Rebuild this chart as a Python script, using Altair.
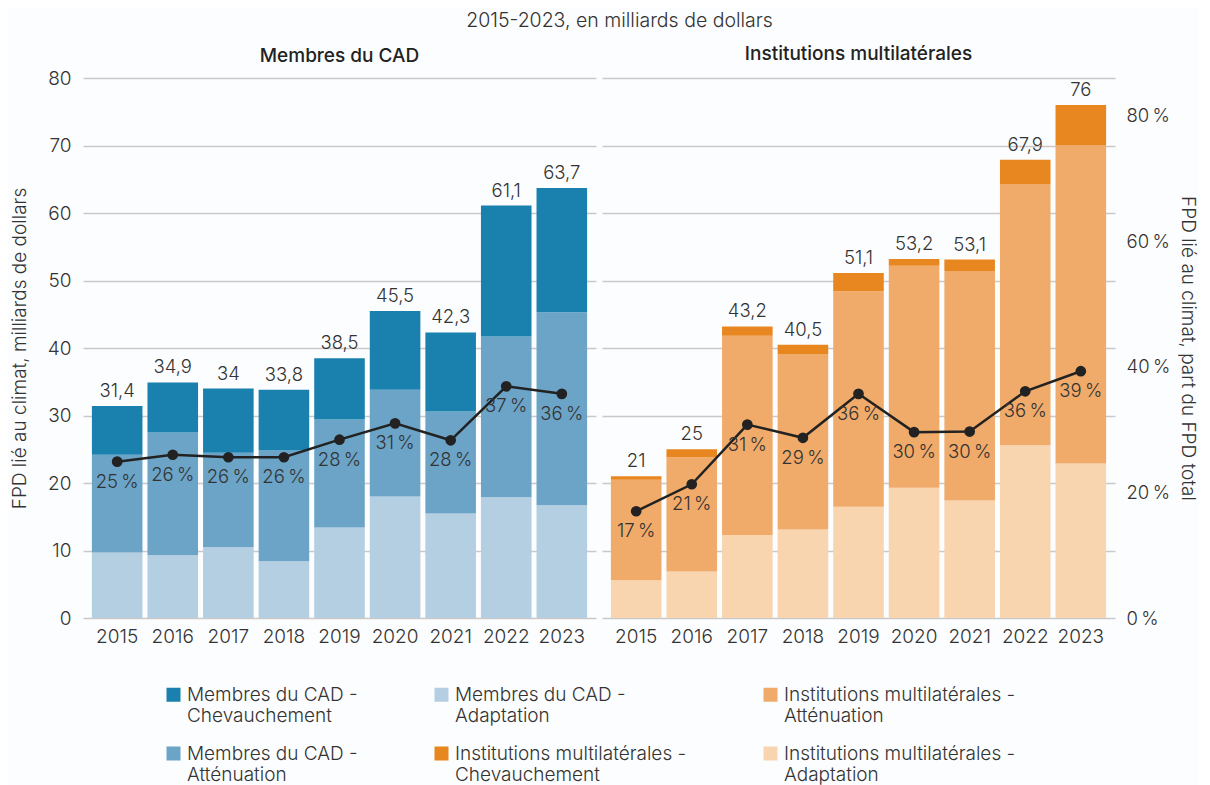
import altair as alt
import pandas as pd

years = ["2015", "2016", "2017", "2018", "2019", "2020", "2021", "2022", "2023"]

cad_adaptation = [9.7, 9.3, 10.5, 8.4, 13.4, 18.0, 15.5, 17.9, 16.7]
cad_attenuation = [14.5, 18.2, 14.0, 16.4, 16.0, 15.8, 15.1, 23.8, 28.6]
cad_chevauchement = [7.2, 7.4, 9.5, 9.0, 9.1, 11.7, 11.7, 19.4, 18.4]
cad_total = [31.4, 34.9, 34, 33.8, 38.5, 45.5, 42.3, 61.1, 63.7]
cad_share = [24.9, 26.0, 25.6, 25.6, 28.4, 31.0, 28.3, 36.9, 35.7]

mdb_adaptation = [5.6, 6.9, 12.3, 13.1, 16.5, 19.3, 17.4, 25.6, 22.9]
mdb_attenuation = [14.9, 16.9, 29.5, 26.0, 31.9, 32.9, 34.0, 38.7, 47.1]
mdb_chevauchement = [0.5, 1.2, 1.4, 1.4, 2.7, 1.0, 1.7, 3.6, 6.0]
mdb_total = [21, 25, 43.2, 40.5, 51.1, 53.2, 53.1, 67.9, 76]
mdb_share = [17.0, 21.3, 30.8, 28.7, 35.7, 29.6, 29.7, 36.1, 39.3]

S_CAD_CHEV = "Membres du CAD - Chevauchement"
S_CAD_ATT = "Membres du CAD - Atténuation"
S_CAD_ADA = "Membres du CAD - Adaptation"
S_MDB_CHEV = "Institutions multilatérales - Chevauchement"
S_MDB_ATT = "Institutions multilatérales - Atténuation"
S_MDB_ADA = "Institutions multilatérales - Adaptation"

legend_order = [S_CAD_CHEV, S_CAD_ADA, S_MDB_ATT, S_CAD_ATT, S_MDB_CHEV, S_MDB_ADA]
legend_colors = ["#1a80ae", "#b4cee2", "#f0aa69", "#6ba4c7", "#e8861f", "#f8d4af"]

FONT = "Inter"
TXT = "#333333"
FS = 19


def fr_num(v):
    return f"{v:g}".replace(".", ",")


def bars_frame(adapt, att, chev, names):
    rows = []
    for i, y in enumerate(years):
        rows.append({"year": y, "series": names[0], "value": adapt[i], "ord": 0})
        rows.append({"year": y, "series": names[1], "value": att[i], "ord": 1})
        rows.append({"year": y, "series": names[2], "value": chev[i], "ord": 2})
    return pd.DataFrame(rows)


def info_frame(total, share):
    return pd.DataFrame({
        "year": years,
        "total": total,
        "total_label": [fr_num(v) for v in total],
        "share": share,
        "share_label": [f"{v:.0f}\u202f%" for v in share],
    })


color = alt.Color(
    "series:N",
    scale=alt.Scale(domain=legend_order, range=legend_colors),
    legend=alt.Legend(
        orient="none",
        legendX=81,
        legendY=607,
        columns=3,
        title=None,
        direction="horizontal",
        symbolType="square",
        symbolSize=196,
        symbolStrokeWidth=0,
        labelFontSize=19,
        labelColor=TXT,
        labelFont=FONT,
        labelFontWeight=300,
        labelLimit=400,
        labelOffset=4,
        columnPadding=74,
        rowPadding=18,
        gridAlign="each",
        labelExpr="split(replace(datum.label, ' - ', ' -|'), '|')",
    ),
)

x_enc = alt.X(
    "year:N",
    sort=years,
    scale=alt.Scale(paddingInner=0.09, paddingOuter=0.16),
    axis=alt.Axis(title=None, labelAngle=0, ticks=False, domain=False,
                  labelPadding=9, labelFontSize=FS, labelColor=TXT,
                  labelFont=FONT, labelFontWeight=300),
)

val_scale = alt.Scale(domain=[0, 80], nice=False, zero=True)
share_scale = alt.Scale(domain=[0, 86], nice=False, zero=True)


def panel(bdf, idf, title, left):
    if left:
        vaxis = alt.Axis(values=list(range(0, 90, 10)), grid=True, ticks=False, domain=False,
                         title="FPD lié au climat, milliards de dollars",
                         titleFontSize=19, titleFontWeight=300, titleColor=TXT, titleFont=FONT,
                         titlePadding=18, labelPadding=12, labelFontSize=FS, labelColor=TXT,
                         labelFont=FONT, labelFontWeight=300)
        saxis = None
        toff = 3
    else:
        vaxis = alt.Axis(values=list(range(0, 90, 10)), grid=True, ticks=False, domain=False,
                         labels=False, title=None)
        saxis = alt.Axis(orient="right", values=[0, 20, 40, 60, 80], grid=False, ticks=False,
                         domain=False, labelExpr="datum.value + '\u202f%'",
                         title="FPD lié au climat, part du FPD total",
                         titleFontSize=19, titleFontWeight=300, titleColor=TXT, titleFont=FONT,
                         titlePadding=8, labelPadding=11, labelFontSize=18.5, labelColor=TXT,
                         labelFont=FONT, labelFontWeight=300)
        toff = 14

    bars = alt.Chart(bdf).mark_bar().encode(
        x=x_enc,
        y=alt.Y("value:Q", stack="zero", scale=val_scale, axis=vaxis),
        color=color,
        order=alt.Order("ord:Q", sort="ascending"),
    )
    totals = alt.Chart(idf).mark_text(
        dy=-15, fontSize=18.5, color=TXT, font=FONT, fontWeight=300, baseline="middle"
    ).encode(
        x=alt.X("year:N", sort=years),
        y=alt.Y("total:Q", scale=val_scale),
        text="total_label:N",
    )
    money = alt.layer(bars, totals)

    sy = alt.Y("share:Q", scale=share_scale, axis=saxis)
    line = alt.Chart(idf).mark_line(color="#222222", strokeWidth=2.5).encode(
        x=alt.X("year:N", sort=years), y=sy
    )
    pts = alt.Chart(idf).mark_circle(color="#222222", size=115, opacity=1).encode(
        x=alt.X("year:N", sort=years), y=alt.Y("share:Q", scale=share_scale)
    )
    lbl = alt.Chart(idf).mark_text(
        dy=20, fontSize=18.5, color=TXT, font=FONT, fontWeight=300, baseline="middle"
    ).encode(
        x=alt.X("year:N", sort=years),
        y=alt.Y("share:Q", scale=share_scale),
        text="share_label:N",
    )
    share = alt.layer(line, pts, lbl)

    return alt.layer(money, share).resolve_scale(y="independent").properties(
        width=513, height=540,
        title=alt.TitleParams(text=title, fontSize=19, fontWeight=500, color="#222222",
                              font=FONT, anchor="middle", frame="group", offset=toff),
    )


left = panel(bars_frame(cad_adaptation, cad_attenuation, cad_chevauchement,
                        [S_CAD_ADA, S_CAD_ATT, S_CAD_CHEV]),
             info_frame(cad_total, cad_share), "Membres du CAD", True)
right = panel(bars_frame(mdb_adaptation, mdb_attenuation, mdb_chevauchement,
                         [S_MDB_ADA, S_MDB_ATT, S_MDB_CHEV]),
              info_frame(mdb_total, mdb_share), "Institutions multilatérales", False)

chart = alt.hconcat(left, right, spacing=6).resolve_scale(color="shared").properties(
    title=alt.TitleParams(text="2015-2023, en milliards de dollars", fontSize=19.5,
                          fontWeight=300, color=TXT, font=FONT, anchor="middle", offset=14, dx=16),
    padding={"left": 2, "top": 2, "right": 2, "bottom": 0},
    background="#fcfdfe",
).configure_view(stroke=None).configure_axis(gridColor="#c9c9c9", gridWidth=1.5)

chart.save("out.html", embed_options={"renderer": "svg", "actions": False})
